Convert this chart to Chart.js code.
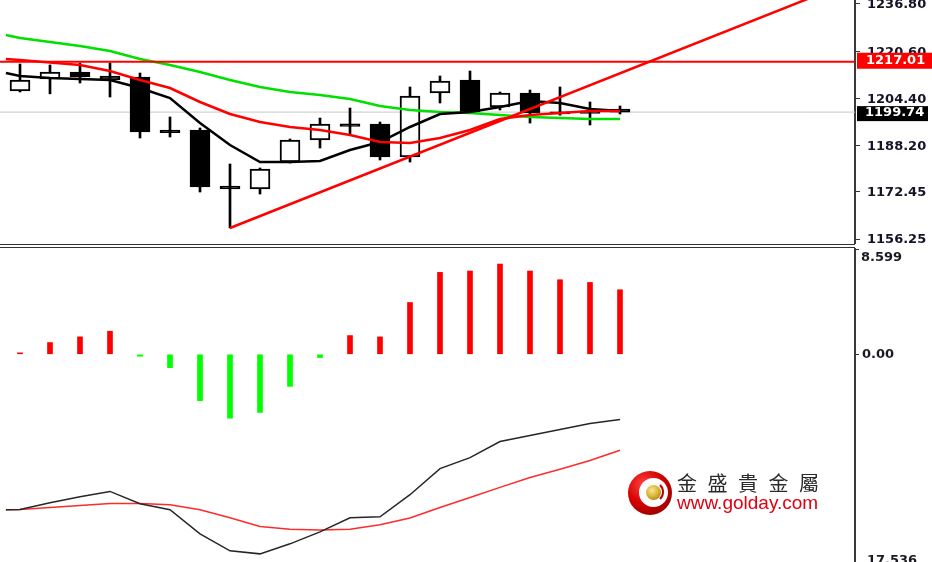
<!DOCTYPE html>
<html><head><meta charset="utf-8">
<script src="https://cdn.jsdelivr.net/npm/chart.js@4.4.1/dist/chart.umd.min.js"></script>
<style>
html,body{margin:0;padding:0;background:#fff;}
body{width:932px;height:562px;overflow:hidden;position:relative;font-family:"DejaVu Sans",sans-serif;}
#topChart{position:absolute;left:0;top:0;}
#macdChart{position:absolute;left:0;top:248px;}
.sep{position:absolute;left:0;width:855px;height:1px;background:#333;}
#logo{position:absolute;left:628px;top:471px;width:44px;height:44px;border-radius:50%;
 background:radial-gradient(circle at 35% 30%,#ff4040 0%,#d40000 45%,#7a0000 100%);}
#logoIn{position:absolute;left:11px;top:7px;width:29px;height:29px;border-radius:50%;background:#fff;}
#logoArc{position:absolute;left:14px;top:10px;width:22px;height:22px;border-radius:50%;border-right:2px solid #c00000;border-top:2px solid transparent;border-bottom:2px solid transparent;box-sizing:border-box;}
#logoBall{position:absolute;left:18px;top:14px;width:15px;height:15px;border-radius:50%;
 background:radial-gradient(circle at 40% 35%,#f8e890 0%,#d8b030 50%,#8a6a10 100%);}
#cn{position:absolute;left:677px;top:473px;font-family:"Noto Sans CJK TC",sans-serif;font-size:20px;line-height:20px;letter-spacing:10.5px;color:#2a2a2a;white-space:nowrap;}
#url{position:absolute;left:677px;top:493px;font-family:"Liberation Sans",Arial,sans-serif;font-size:19px;line-height:19px;color:#e00010;white-space:nowrap;}
</style></head>
<body>
<canvas id="topChart" width="932" height="244"></canvas>
<div class="sep" style="top:244px"></div>
<div class="sep" style="top:247px"></div>
<canvas id="macdChart" width="932" height="321"></canvas>
<div id="logo"><div id="logoIn"></div><div id="logoArc"></div><div id="logoBall"></div></div>
<div id="cn">金盛貴金屬</div>
<div id="url">www.golday.com</div>
<script>
// ---- data ----
const BARS = [0,1,2,3,4,5,6,7,8,9,10,11,12,13,14,15,16,17,18,19,20];
const OPEN  = [1206.98,1211.09,1213.49,1212.12,1211.78,1193.6,1193.61,1174.4,1173.39,1182.64,1190.18,1195.7,1195.67,1184.36,1206.29,1210.75,1201.49,1206.29,1199.8,1200.1,1200.81];
const HIGH  = [1216.23,1215.9,1216.58,1216.58,1213.15,1198.07,1194.3,1181.96,1180.59,1190.53,1197.72,1201.15,1196.35,1208.35,1212.12,1213.83,1206.64,1207.32,1208.35,1203.21,1201.84];
const LOW   = [1206.64,1206.0,1209.72,1204.92,1190.87,1191.21,1172.36,1160.02,1171.67,1182.3,1187.44,1192.24,1183.33,1182.64,1202.87,1199.44,1200.47,1196.0,1198.7,1195.33,1199.09];
const CLOSE = [1210.75,1213.49,1211.78,1210.75,1192.93,1192.7,1174.07,1173.4,1180.24,1190.18,1195.67,1194.8,1184.36,1205.26,1210.41,1199.78,1206.29,1199.44,1199.1,1199.3,1199.74];
// moving averages (first value = lead-in point just left of the first bar)
const MA_LEAD_X = -0.47;
const MA_FAST  = [1213.15,1212.12,1211.43,1211.09,1210.75,1208.01,1204.58,1196.01,1188.47,1182.64,1182.64,1182.99,1186.76,1189.5,1194.64,1199.09,1199.78,1201.49,1203.55,1202.87,1200.81,1200.12];
const MA_MID   = [1217.95,1217.6,1216.75,1215.89,1213.83,1210.75,1208.01,1203.21,1199.09,1196.35,1194.64,1193.61,1191.9,1189.5,1189.16,1190.87,1193.61,1197.38,1198.75,1199.44,1200.12,1200.12];
const MA_SLOW  = [1226.17,1225.15,1223.77,1222.4,1220.69,1217.95,1215.89,1213.49,1210.75,1208.35,1206.64,1205.61,1204.24,1201.84,1200.47,1199.78,1199.44,1198.75,1198.07,1197.72,1197.38,1197.38];
// trend line: from bar 7 low, rising
const TREND_X = [7, 27];
const TREND_Y = [1160.02, 1241.58];
const LEVEL = 1217.01;
const PRICE_TICKS = [1236.80, 1220.60, 1204.40, 1188.20, 1172.45, 1156.25];
const PRICE_MIN = 1154.54, PRICE_MAX = 1238.17;
// MACD panel
const HIST = [0.12,0.96,1.42,1.88,-0.16,-1.09,-3.79,-5.22,-4.75,-2.62,-0.27,1.53,1.42,4.23,6.69,6.8,7.37,6.8,6.09,5.87,5.27];
const MACD_MAIN   = [-12.69,-12.67,-12.12,-11.63,-11.2,-12.2,-12.69,-14.66,-16.05,-16.3,-15.48,-14.5,-13.35,-13.27,-11.47,-9.34,-8.44,-7.13,-6.63,-6.14,-5.65,-5.32];
const MACD_SIGNAL = [-12.69,-12.67,-12.51,-12.34,-12.18,-12.18,-12.29,-12.69,-13.35,-14.06,-14.28,-14.36,-14.28,-13.92,-13.37,-12.51,-11.69,-10.87,-10.07,-9.39,-8.68,-7.84];
const MACD_TICKS = [8.599, 0, -17.536];
const MACD_TICK_LABELS = ['8.599', '0.00', '17.536'];

// ---- layout helpers ----
const X_MIN = -20/30, X_MAX = X_MIN + 855/30;
const maXs = [MA_LEAD_X].concat(BARS);
const pts = (xs, ys) => xs.map((x,i)=>({x, y: ys[i]}));
const AXIS_W = 932 - 855;
const LABEL_FONT = 'bold 13px "DejaVu Sans"';

const priceLabels = {
  id: 'priceLabels',
  afterDraw(chart){
    const {ctx} = chart; const ys = chart.scales.y;
    ctx.save();
    ctx.font = LABEL_FONT; ctx.textBaseline = 'middle'; ctx.textAlign = 'left';
    ctx.fillStyle = '#141428';
    PRICE_TICKS.forEach(v => ctx.fillText(v.toFixed(2), 867, ys.getPixelForValue(v) + 1));
    let py = ys.getPixelForValue(LEVEL);
    ctx.fillStyle = '#ff0000'; ctx.fillRect(857, py - 9, 75, 16);
    ctx.fillStyle = '#ffffff'; ctx.fillText(LEVEL.toFixed(2), 866, py - 1);
    const last = CLOSE[CLOSE.length-1];
    py = ys.getPixelForValue(last);
    ctx.fillStyle = '#000000'; ctx.fillRect(857, py - 6, 71, 15);
    ctx.fillStyle = '#ffffff'; ctx.fillText(last.toFixed(2), 865, py + 1);
    ctx.restore();
  }
};

const macdLabels = {
  id: 'macdLabels',
  afterDraw(chart){
    const {ctx} = chart; const ys = chart.scales.y;
    ctx.save();
    ctx.font = LABEL_FONT; ctx.textBaseline = 'middle'; ctx.textAlign = 'left';
    ctx.fillStyle = '#1a1a22';
    const offs = [9, 0, -8];
    const xs = [861, 862, 867];
    MACD_TICKS.forEach((v,i) => ctx.fillText(MACD_TICK_LABELS[i], xs[i], ys.getPixelForValue(v) + offs[i]));
    ctx.restore();
  }
};

const yAxisCommon = {
  position: 'right',
  afterFit(scale){ scale.width = AXIS_W; },
  ticks: { display: false },
  grid: { display: true, drawOnChartArea: false, drawTicks: true, tickLength: 5, color: '#333', lineWidth: 1 },
  border: { display: true, color: '#3a3a3a', width: 2 }
};

new Chart(document.getElementById('topChart'), {
  type: 'bar',
  data: { datasets: [
    { type:'line', data: pts([X_MIN-1, X_MAX+1], [CLOSE[CLOSE.length-1], CLOSE[CLOSE.length-1]]), borderColor:'#c8c8c8', borderWidth:1, pointRadius:0, order:10, clip:0 },
    { type:'bar', data: BARS.map(i=>({x:i, y:[LOW[i], HIGH[i]]})), backgroundColor:'#000', barThickness:2, grouped:false, order:6 },
    { type:'bar', data: BARS.map(i=>({x:i, y:[OPEN[i], CLOSE[i]]})),
      backgroundColor: c => CLOSE[c.dataIndex] >= OPEN[c.dataIndex] ? '#ffffff' : '#000000',
      borderColor:'#000', borderWidth:2, borderSkipped:false, barThickness:20, grouped:false, order:5 },
    { type:'line', data: pts(maXs, MA_SLOW), borderColor:'#00e000', borderWidth:2.5, pointRadius:0, order:3 },
    { type:'line', data: pts(maXs, MA_MID), borderColor:'#ff0000', borderWidth:2.5, pointRadius:0, order:2 },
    { type:'line', data: pts(maXs, MA_FAST), borderColor:'#000000', borderWidth:2.5, pointRadius:0, order:2 },
    { type:'line', data: pts([X_MIN-1, X_MAX+1], [LEVEL, LEVEL]), borderColor:'#ff0000', borderWidth:2, pointRadius:0, order:1, clip:0 },
    { type:'line', data: pts(TREND_X, TREND_Y), borderColor:'#ff0000', borderWidth:2.5, pointRadius:0, order:1 }
  ]},
  options: {
    responsive:false, animation:false, devicePixelRatio:1,
    layout:{ padding:0 },
    plugins:{ legend:{display:false}, tooltip:{enabled:false} },
    scales:{
      x:{ type:'linear', min:X_MIN, max:X_MAX, offset:false, display:false },
      y:Object.assign({}, yAxisCommon, { min:PRICE_MIN, max:PRICE_MAX,
        afterBuildTicks(s){ s.ticks = PRICE_TICKS.map(v=>({value:v})); } })
    }
  },
  plugins:[priceLabels]
});

new Chart(document.getElementById('macdChart'), {
  type: 'bar',
  data: { datasets: [
    { type:'bar', data: BARS.map(i=>({x:i, y:HIST[i]})),
      backgroundColor: c => HIST[c.dataIndex] >= 0 ? '#ff0000' : '#00ff00',
      barThickness:5, grouped:false, order:3 },
    { type:'line', data: pts(maXs, MACD_SIGNAL), borderColor:'#ff2a2a', borderWidth:1.5, pointRadius:0, order:2 },
    { type:'line', data: pts(maXs, MACD_MAIN), borderColor:'#262626', borderWidth:1.5, pointRadius:0, order:1 }
  ]},
  options: {
    responsive:false, animation:false, devicePixelRatio:1,
    layout:{ padding:{ top:1, bottom:0, left:0, right:0 } },
    plugins:{ legend:{display:false}, tooltip:{enabled:false} },
    scales:{
      x:{ type:'linear', min:X_MIN, max:X_MAX, offset:false, display:false },
      y:Object.assign({}, yAxisCommon, { min:MACD_TICKS[2], max:MACD_TICKS[0],
        grid: { display: true, drawOnChartArea: false, drawTicks: true, tickLength: 4, color: '#333', lineWidth: 1 },
        afterBuildTicks(s){ s.ticks = MACD_TICKS.map(v=>({value:v})); } })
    }
  },
  plugins:[macdLabels]
});
</script>
</body></html>
